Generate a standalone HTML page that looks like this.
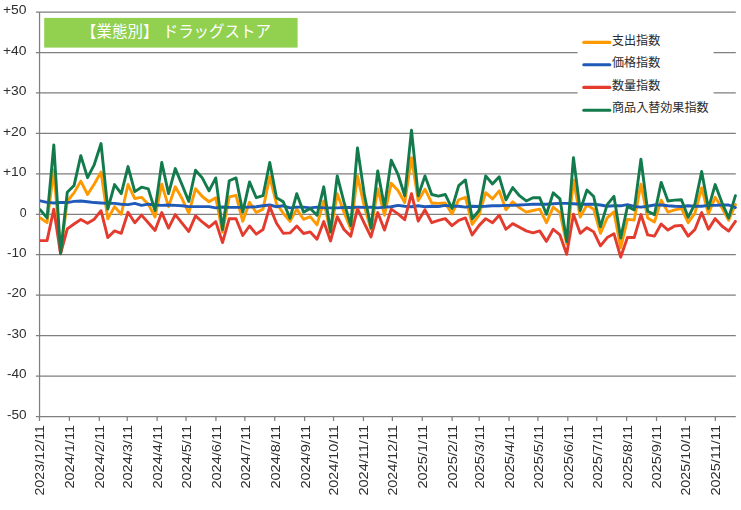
<!DOCTYPE html>
<html><head><meta charset="utf-8"><title>chart</title>
<style>html,body{margin:0;padding:0;background:#fff;}body{width:741px;height:510px;overflow:hidden;font-family:"Liberation Sans",sans-serif;}svg{display:block}</style>
</head><body>
<svg width="741" height="510" viewBox="0 0 741 510">
<rect width="741" height="510" fill="#fff"/>
<path d="M35.9 416.52H735.8M35.9 376.08H735.8M35.9 335.63H735.8M35.9 295.19H735.8M35.9 254.74H735.8M35.9 214.3H735.8M35.9 173.86H735.8M35.9 133.41H735.8M35.9 92.97H735.8M35.9 52.52H735.8M35.9 12.08H735.8M39.55 12.08V416.52M39.5 416.52V420.9M69.39 416.52V420.9M99.27 416.52V420.9M127.23 416.52V420.9M157.12 416.52V420.9M186.04 416.52V420.9M215.93 416.52V420.9M244.85 416.52V420.9M274.74 416.52V420.9M304.63 416.52V420.9M333.55 416.52V420.9M363.44 416.52V420.9M392.36 416.52V420.9M422.25 416.52V420.9M452.13 416.52V420.9M479.13 416.52V420.9M509.02 416.52V420.9M537.94 416.52V420.9M567.83 416.52V420.9M596.75 416.52V420.9M626.64 416.52V420.9M656.52 416.52V420.9M685.45 416.52V420.9M715.33 416.52V420.9" stroke="#7f7f7f" stroke-width="1.25" fill="none"/>
<clipPath id="pc"><rect x="39.9" y="0" width="702" height="510"/></clipPath><g clip-path="url(#pc)">
<polyline points="40.3,217.94 47.05,222.67 53.8,169.93 60.55,252.72 67.29,200.95 74.04,192.86 80.79,181.14 87.54,194.48 94.29,183.97 101.04,171.96 107.79,218.91 114.54,206.62 121.28,214.3 128.03,184.53 134.78,198.53 141.53,197.31 148.28,204.19 155.03,217.01 161.78,184.13 168.53,206.62 175.27,186.8 182.02,198.53 188.77,213.21 195.52,188.82 202.27,196.5 209.02,201.76 215.77,197.72 222.51,232.1 229.26,196.91 236.01,195.29 242.76,221.34 249.51,202.17 256.26,212.56 263.01,209.16 269.76,176.69 276.5,203.78 283.25,213.21 290,221.34 296.75,209.16 303.5,219.32 310.25,216.61 317,224.82 323.75,200.95 330.49,232.9 337.24,193.67 343.99,212.28 350.74,228.86 357.49,175.88 364.24,206.21 370.99,229.47 377.74,188.82 384.48,215.23 391.23,183.16 397.98,190.44 404.73,202.57 411.48,157.68 418.23,200.55 424.98,189.22 431.72,202.98 438.47,203.38 445.22,202.98 451.97,213.9 458.72,199.74 465.47,197.31 472.22,224.41 478.97,215.11 485.71,192.66 492.46,198.93 499.21,190.84 505.96,209.85 512.71,201.76 519.46,207.83 526.21,212.12 532.96,210.5 539.7,209.16 546.45,222.67 553.2,207.14 559.95,212.68 566.7,243.82 573.45,179.92 580.2,217.01 586.94,205 593.69,209.16 600.44,233.31 607.19,217.94 613.94,211.87 620.69,247.71 627.44,219.32 634.19,219.96 640.93,184.13 647.68,217.94 654.43,221.98 661.18,200.14 667.93,212.12 674.68,209.85 681.43,208.48 688.18,222.67 694.92,213.21 701.67,187.81 708.42,213.9 715.17,197.31 721.92,207.83 728.67,220.25 735.42,204.59" fill="none" stroke="#FF9900" stroke-width="2.9" stroke-linejoin="round" stroke-linecap="round"/>
<polyline points="40.3,200.95 47.05,202.41 53.8,202.98 60.55,202.57 67.29,202.57 74.04,201.36 80.79,200.95 87.54,201.76 94.29,202.57 101.04,202.98 107.79,203.38 114.54,203.38 121.28,204.19 128.03,204.59 134.78,203.38 141.53,205.4 148.28,204.19 155.03,205 161.78,205.4 168.53,205 175.27,205.4 182.02,205.81 188.77,206.62 195.52,206.62 202.27,206.62 209.02,206.62 215.77,207.83 222.51,207.02 229.26,207.42 236.01,207.42 242.76,207.42 249.51,207.14 256.26,206.74 263.01,205.81 269.76,205 276.5,206.74 283.25,205.81 290,207.83 296.75,207.14 303.5,207.14 310.25,207.83 317,207.14 323.75,207.83 330.49,207.83 337.24,207.83 343.99,207.55 350.74,207.55 357.49,207.26 364.24,207.42 370.99,207.14 377.74,207.83 384.48,207.14 391.23,206.74 397.98,205.4 404.73,206.21 411.48,206.74 418.23,205.81 424.98,206.74 431.72,206.21 438.47,206.45 445.22,205.4 451.97,206.21 458.72,206.21 465.47,207.14 472.22,206.21 478.97,206.45 485.71,206.21 492.46,205.81 499.21,205.81 505.96,205.4 512.71,205.4 519.46,205 526.21,204.59 532.96,204.19 539.7,204.19 546.45,204.19 553.2,203.78 559.95,203.38 566.7,203.38 573.45,203.78 580.2,204.19 586.94,204.19 593.69,204.19 600.44,205 607.19,206.21 613.94,205.81 620.69,205.81 627.44,204.59 634.19,206.45 640.93,207.14 647.68,206.21 654.43,205 661.18,205 667.93,205.81 674.68,206.21 681.43,206.45 688.18,205.81 694.92,206.21 701.67,206.21 708.42,205.4 715.17,205.4 721.92,205 728.67,205 735.42,207.55" fill="none" stroke="#205AB9" stroke-width="2.9" stroke-linejoin="round" stroke-linecap="round"/>
<polyline points="40.3,240.59 47.05,240.59 53.8,209.16 60.55,253.81 67.29,228.86 74.04,224.01 80.79,219.56 87.54,223.2 94.29,219.15 101.04,210.66 107.79,237.56 114.54,230.88 121.28,233.31 128.03,212.28 134.78,222.79 141.53,215.11 148.28,222.79 155.03,230.48 161.78,212.56 168.53,228.05 175.27,214.58 182.02,223.2 188.77,231.49 195.52,215.92 202.27,221.98 209.02,227.24 215.77,221.58 222.51,242.61 229.26,218.63 236.01,218.75 242.76,235.53 249.51,226.03 256.26,234.12 263.01,229.47 269.76,206.62 276.5,223.2 283.25,233.31 290,232.9 296.75,226.03 303.5,233.51 310.25,231.89 317,239.17 323.75,221.58 330.49,240.99 337.24,216.61 343.99,229.47 350.74,236.14 357.49,208.88 364.24,223.2 370.99,236.95 377.74,212.56 384.48,230.07 391.23,209.16 397.98,213.9 404.73,219.72 411.48,193.67 418.23,221.05 424.98,209.85 431.72,222.67 438.47,220.37 445.22,218.63 451.97,225.62 458.72,220.37 465.47,217.94 472.22,234.93 478.97,225.62 485.71,218.63 492.46,222.67 499.21,215.23 505.96,229.26 512.71,223.6 519.46,227.24 526.21,230.88 532.96,232.9 539.7,230.88 546.45,241.4 553.2,229.26 559.95,234.93 566.7,254.34 573.45,214.3 580.2,233.31 586.94,227.65 593.69,231.89 600.44,245.85 607.19,237.56 613.94,233.71 620.69,257.17 627.44,237.56 634.19,237.56 640.93,214.58 647.68,234.93 654.43,236.14 661.18,224.01 667.93,230.07 674.68,226.03 681.43,225.38 688.18,236.14 694.92,229.47 701.67,212.56 708.42,229.26 715.17,218.63 721.92,226.03 728.67,231.08 735.42,221.34" fill="none" stroke="#E33B2E" stroke-width="2.9" stroke-linejoin="round" stroke-linecap="round"/>
<polyline points="40.3,209.85 47.05,217.94 53.8,144.9 60.55,253.53 67.29,192.26 74.04,185.58 80.79,155.66 87.54,177.66 94.29,164.55 101.04,143.52 107.79,209.16 114.54,184.53 121.28,193.67 128.03,166.58 134.78,191.65 141.53,187.2 148.28,188.82 155.03,210.5 161.78,162.53 168.53,193.67 175.27,168.6 182.02,184.78 188.77,201.36 195.52,170.22 202.27,177.9 209.02,190.84 215.77,177.9 222.51,229.67 229.26,180.73 236.01,177.9 242.76,212.12 249.51,181.94 256.26,197.72 263.01,195.7 269.76,162.53 276.5,197.72 283.25,201.76 290,218.34 296.75,193.67 303.5,212.12 310.25,208.48 317,215.23 323.75,186.8 330.49,231.89 337.24,175.88 343.99,202.17 350.74,225.62 357.49,147.97 364.24,194.08 370.99,228.05 377.74,171.02 384.48,207.14 391.23,160.11 397.98,174.26 404.73,195.7 411.48,130.18 418.23,195.7 424.98,175.88 431.72,194.48 438.47,196.1 445.22,194.48 451.97,208.48 458.72,185.58 465.47,179.92 472.22,218.91 478.97,210.5 485.71,175.88 492.46,183.97 499.21,176.69 505.96,199.74 512.71,187.61 519.46,195.7 526.21,200.95 532.96,197.72 539.7,197.72 546.45,214.3 553.2,192.86 559.95,198.93 566.7,241.6 573.45,157.68 580.2,210.5 586.94,190.03 593.69,196.5 600.44,226.84 607.19,204.59 613.94,196.3 620.69,238.16 627.44,206.45 634.19,209.85 640.93,159.3 647.68,211.19 654.43,214.58 661.18,182.35 667.93,200.95 674.68,200.14 681.43,199.74 688.18,217.29 694.92,203.78 701.67,171.43 708.42,208.48 715.17,184.53 721.92,202.57 728.67,217.94 735.42,195.7" fill="none" stroke="#137A4C" stroke-width="2.9" stroke-linejoin="round" stroke-linecap="round"/>
</g>
<rect x="44.2" y="17.9" width="253.4" height="29.7" fill="#92D050"/>
<rect x="577.6" y="30" width="136" height="90" fill="#fff"/>
<path d="M583.8 42.4H609.8" stroke="#FF9900" stroke-width="3.1" stroke-linecap="round" fill="none"/>
<path d="M583.8 64.8H609.8" stroke="#205AB9" stroke-width="3.1" stroke-linecap="round" fill="none"/>
<path d="M583.8 87.4H609.8" stroke="#E33B2E" stroke-width="3.1" stroke-linecap="round" fill="none"/>
<path d="M583.8 110.3H609.8" stroke="#137A4C" stroke-width="3.1" stroke-linecap="round" fill="none"/>
<text x="81" y="37.2" font-family="'Liberation Sans','Noto Sans CJK JP',sans-serif" font-size="16" fill="#fff" textLength="190" lengthAdjust="spacingAndGlyphs" xml:space="preserve">【業態別】 ドラッグストア</text>
<g font-family="'Liberation Sans','Noto Sans CJK JP',sans-serif" font-size="12.1" fill="#2b2b2b"><text x="612" y="45" textLength="48.2" lengthAdjust="spacingAndGlyphs">支出指数</text><text x="612" y="67.3" textLength="48.2" lengthAdjust="spacingAndGlyphs">価格指数</text><text x="612" y="89.7" textLength="48.2" lengthAdjust="spacingAndGlyphs">数量指数</text><text x="612" y="112" textLength="96.6" lengthAdjust="spacingAndGlyphs">商品入替効果指数</text></g>
<g font-family="Liberation Sans, sans-serif" font-size="12.3" fill="#2e2e2e" opacity="0.999">
<text x="26.6" y="418.82" text-anchor="end" textLength="19.6" lengthAdjust="spacingAndGlyphs">-50</text>
<text x="26.6" y="378.38" text-anchor="end" textLength="19.6" lengthAdjust="spacingAndGlyphs">-40</text>
<text x="26.6" y="337.93" text-anchor="end" textLength="19.6" lengthAdjust="spacingAndGlyphs">-30</text>
<text x="26.6" y="297.49" text-anchor="end" textLength="19.6" lengthAdjust="spacingAndGlyphs">-20</text>
<text x="26.6" y="257.04" text-anchor="end" textLength="19.6" lengthAdjust="spacingAndGlyphs">-10</text>
<text x="26.6" y="216.6" text-anchor="end">0</text>
<text x="26.6" y="176.16" text-anchor="end" textLength="23.6" lengthAdjust="spacingAndGlyphs">+10</text>
<text x="26.6" y="135.71" text-anchor="end" textLength="23.6" lengthAdjust="spacingAndGlyphs">+20</text>
<text x="26.6" y="95.27" text-anchor="end" textLength="23.6" lengthAdjust="spacingAndGlyphs">+30</text>
<text x="26.6" y="54.82" text-anchor="end" textLength="23.6" lengthAdjust="spacingAndGlyphs">+40</text>
<text x="26.6" y="14.38" text-anchor="end" textLength="23.6" lengthAdjust="spacingAndGlyphs">+50</text>
<text transform="translate(44.4,495.6) rotate(-90)" textLength="70.6" lengthAdjust="spacingAndGlyphs">2023/12/11</text>
<text transform="translate(74.29,488.6) rotate(-90)" textLength="63.6" lengthAdjust="spacingAndGlyphs">2024/1/11</text>
<text transform="translate(104.17,488.6) rotate(-90)" textLength="63.6" lengthAdjust="spacingAndGlyphs">2024/2/11</text>
<text transform="translate(132.13,488.6) rotate(-90)" textLength="63.6" lengthAdjust="spacingAndGlyphs">2024/3/11</text>
<text transform="translate(162.02,488.6) rotate(-90)" textLength="63.6" lengthAdjust="spacingAndGlyphs">2024/4/11</text>
<text transform="translate(190.94,488.6) rotate(-90)" textLength="63.6" lengthAdjust="spacingAndGlyphs">2024/5/11</text>
<text transform="translate(220.83,488.6) rotate(-90)" textLength="63.6" lengthAdjust="spacingAndGlyphs">2024/6/11</text>
<text transform="translate(249.75,488.6) rotate(-90)" textLength="63.6" lengthAdjust="spacingAndGlyphs">2024/7/11</text>
<text transform="translate(279.64,488.6) rotate(-90)" textLength="63.6" lengthAdjust="spacingAndGlyphs">2024/8/11</text>
<text transform="translate(309.53,488.6) rotate(-90)" textLength="63.6" lengthAdjust="spacingAndGlyphs">2024/9/11</text>
<text transform="translate(338.45,495.6) rotate(-90)" textLength="70.6" lengthAdjust="spacingAndGlyphs">2024/10/11</text>
<text transform="translate(368.34,495.6) rotate(-90)" textLength="70.6" lengthAdjust="spacingAndGlyphs">2024/11/11</text>
<text transform="translate(397.26,495.6) rotate(-90)" textLength="70.6" lengthAdjust="spacingAndGlyphs">2024/12/11</text>
<text transform="translate(427.15,488.6) rotate(-90)" textLength="63.6" lengthAdjust="spacingAndGlyphs">2025/1/11</text>
<text transform="translate(457.03,488.6) rotate(-90)" textLength="63.6" lengthAdjust="spacingAndGlyphs">2025/2/11</text>
<text transform="translate(484.03,488.6) rotate(-90)" textLength="63.6" lengthAdjust="spacingAndGlyphs">2025/3/11</text>
<text transform="translate(513.92,488.6) rotate(-90)" textLength="63.6" lengthAdjust="spacingAndGlyphs">2025/4/11</text>
<text transform="translate(542.84,488.6) rotate(-90)" textLength="63.6" lengthAdjust="spacingAndGlyphs">2025/5/11</text>
<text transform="translate(572.73,488.6) rotate(-90)" textLength="63.6" lengthAdjust="spacingAndGlyphs">2025/6/11</text>
<text transform="translate(601.65,488.6) rotate(-90)" textLength="63.6" lengthAdjust="spacingAndGlyphs">2025/7/11</text>
<text transform="translate(631.54,488.6) rotate(-90)" textLength="63.6" lengthAdjust="spacingAndGlyphs">2025/8/11</text>
<text transform="translate(661.42,488.6) rotate(-90)" textLength="63.6" lengthAdjust="spacingAndGlyphs">2025/9/11</text>
<text transform="translate(690.35,495.6) rotate(-90)" textLength="70.6" lengthAdjust="spacingAndGlyphs">2025/10/11</text>
<text transform="translate(720.23,495.6) rotate(-90)" textLength="70.6" lengthAdjust="spacingAndGlyphs">2025/11/11</text>
</g>
</svg>
</body></html>
